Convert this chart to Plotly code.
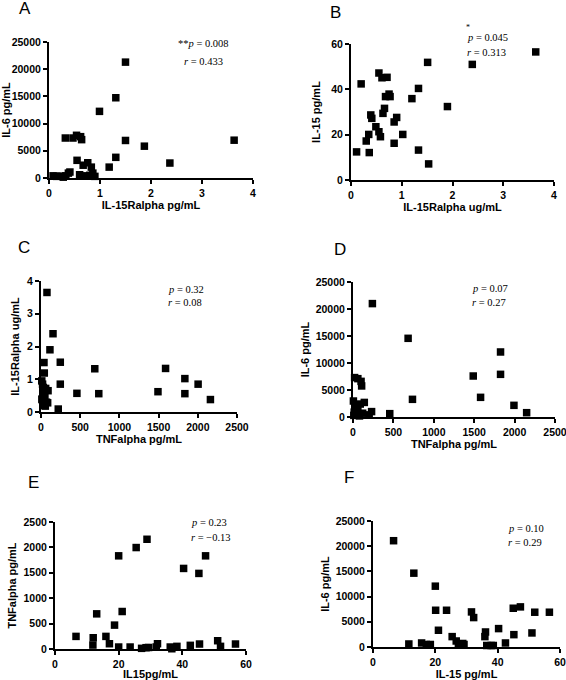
import plotly.graph_objects as go

# ---------------- data ----------------
# Panel A: IL-15Ralpha (pg/mL) vs IL-6 (pg/mL)
a_x = [0.08, 0.15, 0.22, 0.28, 0.33, 0.38, 0.41, 0.32, 0.47, 0.54, 0.62, 0.64, 0.55, 0.67,
       0.76, 0.83, 0.86, 0.60, 0.70, 0.80, 0.90, 0.99, 1.18, 1.31, 1.31, 1.50, 1.50, 1.87,
       2.37, 3.63]
a_y = [400, 300, 350, 150, 400, 900, 1100, 7350, 7350, 7850, 7600, 7050, 3250, 2350,
       2800, 2000, 900, 600, 400, 500, 300, 12250, 2000, 3800, 14750, 21300, 6900, 5850,
       2750, 6950]

# Panel B: IL-15Ralpha (ug/mL) vs IL-15 (pg/mL)
b_x = [3.64, 2.39, 1.51, 1.90, 1.33, 1.20, 1.33, 1.53, 1.02, 0.85, 0.90, 0.85, 0.77, 0.75,
       0.68, 0.71, 0.61, 0.55, 0.20, 0.66, 0.63, 0.39, 0.41, 0.49, 0.55, 0.58, 0.35, 0.30,
       0.36, 0.11]
b_y = [56.5, 51.0, 51.9, 32.4, 40.4, 35.9, 13.2, 7.1, 20.1, 16.2, 27.6, 25.6, 36.8, 37.9,
       36.8, 45.3, 45.1, 47.2, 42.4, 31.6, 29.4, 28.7, 27.2, 23.5, 21.3, 19.1, 20.1, 17.2,
       12.1, 12.4]

# Panel C: TNFalpha (pg/mL) vs IL-15Ralpha (ug/mL)
c_x = [76, 153, 114, 246, 38, 42, 686, 1589, 1835, 2004, 1835, 2161, 1492, 737, 458, 246,
       220, 10, 20, 30, 45, 60, 15, 25, 50, 70, 85, 35, 55, 90, 12]
c_y = [3.65, 2.39, 1.90, 1.52, 1.51, 1.19, 1.32, 1.33, 1.02, 0.85, 0.56, 0.38, 0.62, 0.56,
       0.57, 0.85, 0.09, 0.95, 0.85, 0.75, 0.68, 0.72, 0.40, 0.55, 0.45, 0.30, 0.28, 0.20,
       0.18, 0.65, 0.38]

# Panel D: TNFalpha (pg/mL) vs IL-6 (pg/mL)
d_x = [240, 682, 1826, 1826, 1488, 1579, 736, 1992, 2149, 455, 20, 60, 100, 107, 5, 140,
       30, 60, 90, 15, 45, 120, 200, 230, 10, 35, 80]
d_y = [21000, 14570, 12040, 7900, 7590, 3640, 3270, 2160, 800, 620, 7300, 7100, 6600, 5750,
       2960, 2700, 2200, 1800, 2400, 900, 1200, 700, 400, 1000, 300, 500, 200]

# Panel E: IL-15 (pg/mL) vs TNFalpha (pg/mL)
e_x = [6.6, 12.0, 11.9, 13.1, 16.0, 17.1, 18.7, 20.0, 21.1, 20.0, 23.6, 25.5, 27.2, 28.9,
       28.6, 29.4, 32.2, 31.8, 36.2, 36.7, 38.3, 40.4, 42.5, 45.2, 45.4, 47.3, 51.1, 52.0,
       56.7]
e_y = [248, 222, 78, 692, 248, 104, 470, 1834, 738, 39, 39, 1997, 13, 2160, 26, 30, 104,
       40, 39, 5, 52, 1586, 72, 1488, 98, 1834, 163, 52, 98]

# Panel F: IL-15 (pg/mL) vs IL-6 (pg/mL)
f_x = [6.6, 13.1, 20.0, 20.1, 23.6, 31.6, 32.3, 45.0, 47.3, 51.9, 56.6, 40.3, 36.1, 35.9,
       21.0, 25.4, 45.2, 51.0, 11.5, 15.6, 17.1, 18.4, 26.7, 27.4, 28.8, 29.2, 36.5, 37.9,
       38.6, 42.5]
f_y = [21090, 14650, 12070, 7290, 7290, 6960, 5840, 7690, 7960, 6900, 6900, 3650, 2980,
       2060, 3320, 2060, 2450, 2790, 600, 800, 500, 500, 1190, 600, 700, 500, 300, 300,
       300, 800]

panel_letters = ["A", "B", "C", "D", "E", "F"]
x_titles = ["IL-15Ralpha pg/mL", "IL-15Ralpha ug/mL", "TNFalpha pg/mL", "TNFalpha pg/mL",
            "IL15pg/mL", "IL-15 pg/mL"]
y_titles = ["IL-6 pg/mL", "IL-15 pg/mL", "IL-15Ralpha ug/mL", "IL-6 pg/mL",
            "TNFalpha pg/mL", "IL-6 pg/mL"]
x_ticks = [[0, 1, 2, 3, 4], [0, 1, 2, 3, 4], [0, 500, 1000, 1500, 2000, 2500],
           [0, 500, 1000, 1500, 2000, 2500], [0, 20, 40, 60], [0, 20, 40, 60]]
y_ticks = [[0, 5000, 10000, 15000, 20000, 25000], [0, 20, 40, 60], [0, 1, 2, 3, 4],
           [0, 5000, 10000, 15000, 20000, 25000], [0, 500, 1000, 1500, 2000, 2500],
           [0, 5000, 10000, 15000, 20000, 25000]]
stats_p = ["**<i>p</i> = 0.008", "<i>p</i> = 0.045", "<i>p</i> = 0.32", "<i>p</i> = 0.07",
           "<i>p</i> = 0.23", "<i>p</i> = 0.10"]
stats_r = ["<i>r</i> = 0.433", "<i>r</i> = 0.313", "<i>r</i> = 0.08", "<i>r</i> = 0.27",
           "<i>r</i> = \u22120.13", "<i>r</i> = 0.29"]

xs = [a_x, b_x, c_x, d_x, e_x, f_x]
ys = [a_y, b_y, c_y, d_y, e_y, f_y]

# ---------------- layout geometry (pixels) ----------------
W, H = 566, 680
boxes = [(49, 253, 42, 178), (351, 554, 44, 180), (41, 237, 281, 412),
         (353, 555, 282, 417), (55, 246, 522, 649), (373, 560, 521, 647)]
letter_pos = [(25, 9), (335, 12), (24, 247), (340, 249), (33, 482), (349, 478)]
stat_pos = [(203, 44, 203, 61, "center"), (465, 37, 465, 53, "left"),
            (166, 289, 166, 302, "left"), (470, 288, 470, 302, "left"),
            (189, 522, 189, 537, "left"), (506, 528, 506, 542, "left")]
y_standoff = [2, 8, 5, 4, 5, 4]
x_standoff = [2, 3, 3, 3, 1, 2]

def px(x):
    return x / W

def py(y):
    return 1 - y / H

fig = go.Figure()
tickfont = dict(family="Liberation Sans, Arial", size=10.5, color="black", weight="bold")
titlefont = dict(family="Liberation Sans, Arial", size=11, color="black", weight="bold")

annotations = []
for i in range(6):
    n = "" if i == 0 else str(i + 1)
    fig.add_trace(go.Scatter(
        x=xs[i], y=ys[i], mode="markers",
        marker=dict(symbol="square", size=7.5, color="black"),
        cliponaxis=False, showlegend=False,
        xaxis="x" + n, yaxis="y" + n))
    x0, x1, yt, yb = boxes[i]
    xt, yt_ = x_ticks[i], y_ticks[i]
    axis_common = dict(showline=True, linewidth=2, linecolor="black", ticks="outside",
                       ticklen=4, tickwidth=2, tickcolor="black", showgrid=False,
                       zeroline=False, tickfont=tickfont, tickformat="d", automargin=False,
                       ticklabeloverflow="allow")
    fig.update_layout(**{
        "xaxis" + n: dict(domain=[px(x0), px(x1)], range=[xt[0], xt[-1]], tickvals=xt,
                          anchor="y" + n,
                          title=dict(text=x_titles[i], font=titlefont, standoff=x_standoff[i]),
                          **axis_common),
        "yaxis" + n: dict(domain=[py(yb), py(yt)], range=[yt_[0], yt_[-1]], tickvals=yt_,
                          anchor="x" + n,
                          title=dict(text=y_titles[i], font=titlefont, standoff=y_standoff[i]),
                          **axis_common),
    })
    lx, ly = letter_pos[i]
    annotations.append(dict(text=panel_letters[i], x=px(lx), y=py(ly), xref="paper",
                            yref="paper", showarrow=False, xanchor="center", yanchor="middle",
                            font=dict(family="Liberation Sans, Arial", size=17, color="black")))
    sx1, sy1, sx2, sy2, al = stat_pos[i]
    for txt, sx, sy in ((stats_p[i], sx1, sy1), (stats_r[i], sx2, sy2)):
        annotations.append(dict(text=txt, x=px(sx), y=py(sy), xref="paper", yref="paper",
                                showarrow=False, xanchor=al, yanchor="middle",
                                font=dict(family="Liberation Serif, Times New Roman",
                                          size=10.5, color="black")))

# small asterisk above p in panel B
annotations.append(dict(text="*", x=px(468), y=py(28), xref="paper", yref="paper",
                        showarrow=False, xanchor="center", yanchor="middle",
                        font=dict(family="Liberation Serif", size=8, color="black")))

fig.update_layout(width=W, height=H, margin=dict(l=0, r=0, t=0, b=0),
                  plot_bgcolor="white", paper_bgcolor="white",
                  annotations=annotations)

fig.write_html("out.html", config={"displayModeBar": False},
               post_script="document.body.style.margin='0';")
